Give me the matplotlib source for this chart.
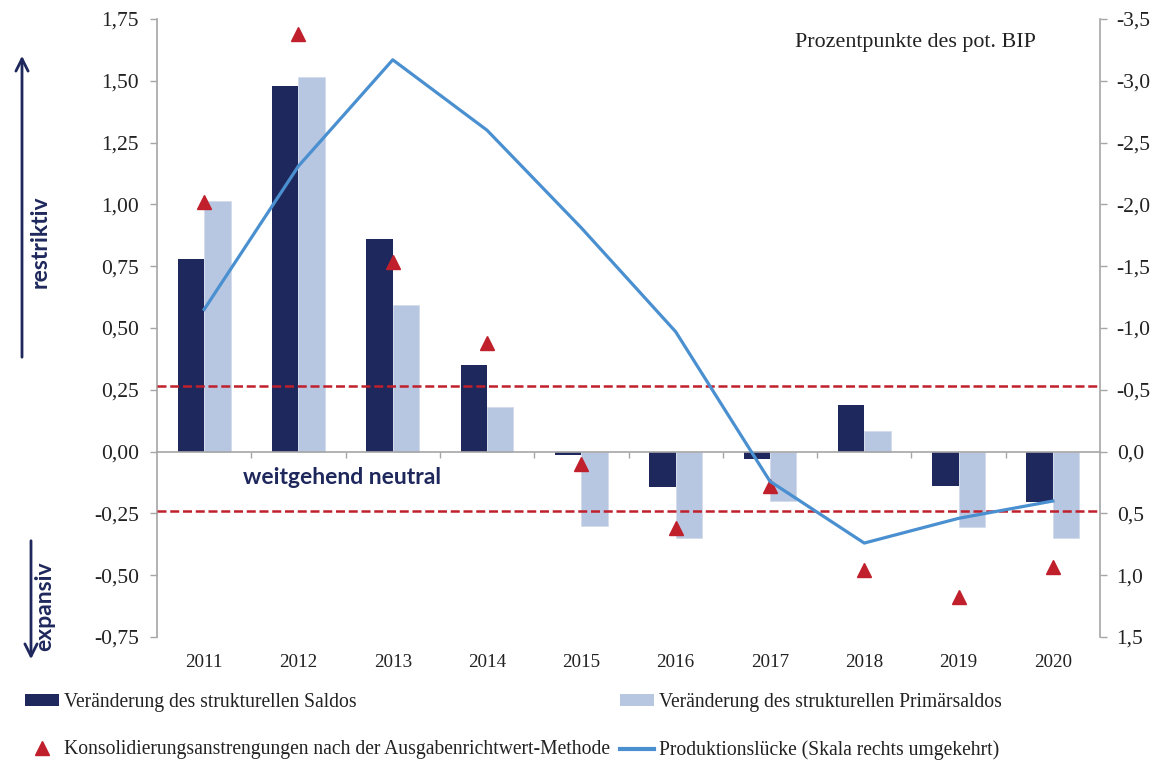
import numpy as np
import matplotlib
matplotlib.use("Agg")
import matplotlib.pyplot as plt
from matplotlib.lines import Line2D
from matplotlib.patches import Patch, FancyArrowPatch
from matplotlib.transforms import blended_transform_factory

# ---------------- data ----------------
years = ["2011", "2012", "2013", "2014", "2015", "2016", "2017", "2018", "2019", "2020"]
saldo = [0.78, 1.48, 0.86, 0.35, -0.015, -0.145, -0.03, 0.19, -0.14, -0.205]
primaer = [1.015, 1.515, 0.595, 0.18, -0.30, -0.35, -0.20, 0.085, -0.305, -0.35]
konsol = [1.01, 1.69, 0.765, 0.44, -0.05, -0.31, -0.14, -0.48, -0.59, -0.465]
gap = [-1.15, -2.31, -3.17, -2.60, -1.81, -0.97, 0.24, 0.74, 0.54, 0.40]
neutral_band = [0.265, -0.24]
left_ticks = [-0.75, -0.5, -0.25, 0.0, 0.25, 0.5, 0.75, 1.0, 1.25, 1.5, 1.75]
right_ticks = [-3.5, -3.0, -2.5, -2.0, -1.5, -1.0, -0.5, 0.0, 0.5, 1.0, 1.5]

labels = [
    "Veränderung des strukturellen Saldos",
    "Veränderung des strukturellen Primärsaldos",
    "Konsolidierungsanstrengungen nach der Ausgabenrichtwert-Methode",
    "Produktionslücke (Skala rechts umgekehrt)",
]

# ---------------- style ----------------
C_DARK = "#1f285c"
C_LIGHT = "#b7c6e1"
C_RED = "#c0202b"
C_LINE = "#4a90d0"
C_AXIS = "#a6a6a6"
C_TXT = "#222222"
SERIF = ["Liberation Serif", "DejaVu Serif"]
SANS_B = ["Lato", "DejaVu Sans"]
FS_TICK = 15.5
FS_YEAR = 13.8
FS_LEG = 14.1
FS_NOTE = 15.8
FS_BOLD = 16.5

plt.rcParams["font.family"] = SERIF

W, H = 1152, 763
fig = plt.figure(figsize=(W / 100, H / 100), dpi=100)
ax = fig.add_axes([157 / W, 1 - 637 / H, (1100 - 157) / W, (637 - 19) / H])

x = np.arange(len(years))
bw = 0.28
ax.bar(x - bw / 2, saldo, width=bw, color=C_DARK, zorder=3)
ax.bar(x + bw / 2, primaer, width=bw, color=C_LIGHT, edgecolor="#d3dcec", lw=0.6, zorder=3)

for v in neutral_band:
    ax.axhline(v, color=C_RED, lw=1.8, dashes=(3.6, 1.5), zorder=4)

ax.plot(x, konsol, linestyle="none", marker="^", ms=10.5, color=C_RED, zorder=6)

ax.set_xlim(-0.5, len(years) - 0.5)
ax.set_ylim(left_ticks[0], left_ticks[-1])
ax.set_yticks(left_ticks)
ax.set_yticklabels([f"{v:.2f}".replace(".", ",") for v in left_ticks],
                   fontsize=FS_TICK, color=C_TXT)
ax.tick_params(axis="y", direction="out", length=5, width=1, color=C_AXIS, pad=8)

# bottom spine moved to zero with category-boundary ticks
ax.spines["bottom"].set_position(("data", 0))
ax.spines["bottom"].set_color(C_AXIS)
ax.spines["bottom"].set_linewidth(1.2)
ax.set_xticks(x[:-1] + 0.5)
ax.set_xticklabels([])
ax.tick_params(axis="x", direction="out", length=4.5, width=1, color=C_AXIS)
ax.spines["top"].set_visible(False)
ax.spines["right"].set_visible(False)
ax.spines["left"].set_color(C_AXIS)
ax.spines["left"].set_linewidth(1.2)
ax.spines["bottom"].set_zorder(5)

trans = blended_transform_factory(ax.transData, ax.transAxes)
for xi, yr in zip(x, years):
    ax.text(xi, -0.042, yr, transform=trans, ha="center", va="center",
            fontsize=FS_YEAR, color=C_TXT)

ax2 = ax.twinx()
ax2.plot(x, gap, color=C_LINE, lw=2.3, zorder=5)
ax2.set_ylim(right_ticks[-1], right_ticks[0])
ax2.set_yticks(right_ticks)
ax2.set_yticklabels([f"{v:.1f}".replace(".", ",") for v in right_ticks],
                    fontsize=FS_TICK, color=C_TXT)
ax2.tick_params(axis="y", direction="out", length=5, width=1, color=C_AXIS, pad=7)
for s in ["top", "left", "bottom"]:
    ax2.spines[s].set_visible(False)
ax2.spines["right"].set_color(C_AXIS)
ax2.spines["right"].set_linewidth(1.2)

# annotations
fig.text(915 / W, 1 - 43 / H, "Prozentpunkte des pot. BIP", ha="center", va="center",
         fontsize=FS_NOTE, color=C_TXT)
fig.text(342 / W, 1 - 478 / H, "weitgehend neutral", ha="center", va="center",
         fontsize=FS_BOLD, fontweight="bold", family=SANS_B, color=C_DARK)
fig.text(40 / W, 1 - 242 / H, "restriktiv", ha="center", va="center", rotation=90,
         fontsize=FS_BOLD, fontweight="bold", family=SANS_B, color=C_DARK)
fig.text(45 / W, 1 - 606 / H, "expansiv", ha="center", va="center", rotation=90,
         fontsize=FS_BOLD, fontweight="bold", family=SANS_B, color=C_DARK)
ar = dict(arrowstyle="->", color=C_DARK, lw=2, mutation_scale=22)
fig.add_artist(FancyArrowPatch(
    (22 / W, 1 - 360 / H), (22 / W, 1 - 53 / H), transform=fig.transFigure, **ar))
fig.add_artist(FancyArrowPatch(
    (31 / W, 1 - 538 / H), (31 / W, 1 - 662 / H), transform=fig.transFigure, **ar))

# legend
h_saldo = Patch(facecolor=C_DARK, edgecolor="none")
h_prim = Patch(facecolor=C_LIGHT, edgecolor="none")
h_kons = Line2D([], [], linestyle="none", marker="^", ms=10, color=C_RED)
h_gap = Line2D([], [], color=C_LINE, lw=3)
leg = fig.legend([h_saldo, h_kons, h_prim, h_gap],
                 [labels[0], labels[2], labels[1], labels[3]],
                 ncol=2, loc="upper left", bbox_to_anchor=(25 / W, 1 - 693 / H),
                 frameon=False, fontsize=FS_LEG, handlelength=1.75, handleheight=0.55,
                 handletextpad=0.25, columnspacing=0.5, labelspacing=1.45,
                 borderpad=0, borderaxespad=0)
for t in leg.get_texts():
    t.set_color(C_TXT)

fig.savefig("out.png", dpi=100)
